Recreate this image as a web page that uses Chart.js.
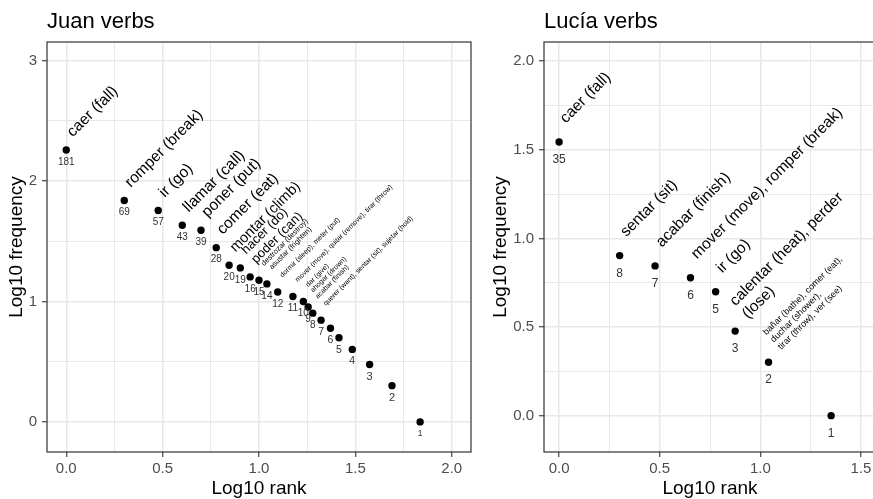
<!DOCTYPE html>
<html><head><meta charset="utf-8">
<script src="https://cdn.jsdelivr.net/npm/chart.js@4.4.0/dist/chart.umd.min.js"></script>
<style>
html,body{margin:0;padding:0;width:873px;height:499px;overflow:hidden;background:#fff;}
#c1{position:absolute;left:0;top:0;}
#c2{position:absolute;left:480px;top:0;}
</style></head><body>
<canvas id="c1" width="480" height="499"></canvas>
<canvas id="c2" width="410" height="499"></canvas>
<script>
// ---------- DATA ----------
const juanTitle = 'Juan verbs';
const juanCounts = [181, 69, 57, 43, 39, 28, 20, 19, 16, 15, 14, 12, 11, 10, 9, 8, 7, 6, 5, 4, 3, 2, 1];
const juanLogRank = [0, 0.301, 0.477, 0.602, 0.699, 0.778, 0.845, 0.903, 0.954, 1.0, 1.041, 1.097, 1.176, 1.230, 1.255, 1.279, 1.322, 1.371, 1.415, 1.484, 1.574, 1.690, 1.836];
const juanLogFreq = [2.258, 1.839, 1.756, 1.633, 1.591, 1.447, 1.301, 1.279, 1.204, 1.176, 1.146, 1.079, 1.041, 1.0, 0.954, 0.903, 0.845, 0.778, 0.699, 0.602, 0.477, 0.301, 0];
const juanVerbs = ['caer (fall)', 'romper (break)', 'ir (go)', 'llamar (call)', 'poner (put)', 'comer (eat)',
  'montar (climb)', 'hacer (do)', 'poder (can)', 'destrozar (destroy)', 'asustar (frighten)',
  'dormir (sleep), meter (put)', 'mover (move), quitar (remove), tirar (throw)', 'dar (give)',
  'ahogar (drown)', 'acabar (finish)', 'querer (want), sentar (sit), sujetar (hold)', '', '', '', '', '', ''];

const luciaTitle = 'Lucía verbs';
const luciaCounts = [35, 8, 7, 6, 5, 3, 2, 1];
const luciaLogRank = [0, 0.301, 0.477, 0.653, 0.778, 0.875, 1.041, 1.352];
const luciaLogFreq = [1.544, 0.903, 0.845, 0.778, 0.699, 0.477, 0.301, 0];
const luciaVerbs = ['caer (fall)', 'sentar (sit)', 'acabar (finish)', 'mover (move), romper (break)', 'ir (go)',
  'calentar (heat), perder\n(lose)', 'bañar (bathe), comer (eat),\nduchar (shower),\ntirar (throw), ver (see)', ''];

const juanXTicks = [0, 0.5, 1, 1.5, 2];
const juanYTicks = [0, 1, 2, 3];
const luciaXTicks = [0, 0.5, 1, 1.5];
const luciaYTicks = [0, 0.5, 1, 1.5, 2];
const xTitle = 'Log10 rank';
const yTitle = 'Log10 frequency';

// ---------- STYLE ----------
const FONT = '"Liberation Sans", Arial, Helvetica, sans-serif';
const juanStyle = {
  labelSize: i => i < 6 ? 15.5 : (i === 6 ? 14.5 : (i < 9 ? 13 : (i < 11 ? 7.5 : 7))),
  countSize: i => { const c = juanCounts[i]; return c === 1 ? 8.5 : (c <= 3 ? 11 : (c <= 7 ? 10.5 : 10)); },
  nudge: 0.1, yTitleX: 22
};
const luciaStyle = {
  labelSize: i => i === 6 ? 9 : 15.5,
  countSize: i => 12,
  nudge: 0.1, yTitleX: 26
};

function isOn(v, list) { return list.some(t => Math.abs(t - v) < 1e-6); }

function axis(min, max, step, majors, fmt, fitKey, fitVal, pad) {
  return {
    type: 'linear', min, max,
    afterFit: s => { s[fitKey] = fitVal; },
    ticks: {
      stepSize: step, includeBounds: false, autoSkip: false, maxRotation: 0, minRotation: 0,
      color: '#4d4d4d', font: { family: FONT, size: 15 }, padding: pad,
      callback: v => isOn(v, majors) ? fmt(v) : ''
    },
    grid: {
      color: '#e8e8e8',
      lineWidth: c => (c.tick && isOn(c.tick.value, majors)) ? 1.5 : 1,
      drawTicks: true, tickLength: 5, tickWidth: 1.1,
      tickColor: c => (c.tick && isOn(c.tick.value, majors)) ? '#333333' : 'rgba(0,0,0,0)'
    },
    border: { display: false }
  };
}

function annotate(title, counts, verbs, logFreq, style) {
  return {
    id: 'annot',
    afterDatasetsDraw(chart) {
      const { ctx, chartArea: a, scales: { x, y } } = chart;
      ctx.save();
      ctx.strokeStyle = '#333333'; ctx.lineWidth = 1.2;
      ctx.strokeRect(a.left, a.top, a.right - a.left, a.bottom - a.top);
      const meta = chart.getDatasetMeta(0);
      meta.data.forEach((pt, i) => {
        const px = pt.x;
        ctx.fillStyle = '#333333';
        ctx.font = style.countSize(i) + 'px ' + FONT;
        ctx.textAlign = 'center'; ctx.textBaseline = 'middle';
        ctx.fillText(String(counts[i]), px, y.getPixelForValue(logFreq[i] - style.nudge));
        const txt = verbs[i];
        if (txt) {
          const size = style.labelSize(i);
          const lines = txt.split('\n');
          const lh = size * 1.15;
          ctx.save();
          ctx.translate(px, y.getPixelForValue(logFreq[i] + style.nudge));
          ctx.rotate(-Math.PI / 4);
          ctx.fillStyle = '#000000';
          ctx.font = size + 'px ' + FONT;
          ctx.textAlign = 'left'; ctx.textBaseline = 'middle';
          lines.forEach((ln, k) => ctx.fillText(ln, 5, (k - (lines.length - 1) / 2) * lh));
          ctx.restore();
        }
      });
      ctx.fillStyle = '#000000';
      ctx.font = '22px ' + FONT;
      ctx.textAlign = 'left'; ctx.textBaseline = 'alphabetic';
      ctx.fillText(title, a.left, 28);
      ctx.font = '19px ' + FONT;
      ctx.textAlign = 'center';
      ctx.fillText(xTitle, (a.left + a.right) / 2, 494);
      ctx.save();
      ctx.translate(style.yTitleX, (a.top + a.bottom) / 2);
      ctx.rotate(-Math.PI / 2);
      ctx.fillText(yTitle, 0, 0);
      ctx.restore();
      ctx.restore();
    }
  };
}

function makeChart(id, xs, ys, xr, yr, xMaj, yMaj, yFmt, yAxisW, padRight, title, counts, verbs, style) {
  return new Chart(document.getElementById(id), {
    type: 'scatter',
    data: { datasets: [{ data: xs.map((v, i) => ({ x: v, y: ys[i] })), backgroundColor: '#000', borderColor: '#000', borderWidth: 0, pointRadius: 3.7 }] },
    options: {
      responsive: false, animation: false, devicePixelRatio: 1,
      layout: { padding: { top: 42, right: padRight, bottom: 0, left: 0 } },
      plugins: { legend: { display: false }, tooltip: { enabled: false } },
      scales: {
        x: axis(xr[0], xr[1], 0.25, xMaj, v => v.toFixed(1), 'height', 47, 3),
        y: axis(yr[0], yr[1], yr[2], yMaj, yFmt, 'width', yAxisW, 5)
      }
    },
    plugins: [annotate(title, counts, verbs, ys, style)]
  });
}

makeChart('c1', juanLogRank, juanLogFreq, [-0.1, 2.1], [-0.25, 3.155, 0.5], juanXTicks, juanYTicks,
  v => String(Math.round(v)), 47, 9, juanTitle, juanCounts, juanVerbs, juanStyle);
makeChart('c2', luciaLogRank, luciaLogFreq, [-0.075, 1.575], [-0.205, 2.108, 0.25], luciaXTicks, luciaYTicks,
  v => v.toFixed(1), 64, 14, luciaTitle, luciaCounts, luciaVerbs, luciaStyle);
</script>
</body></html>
